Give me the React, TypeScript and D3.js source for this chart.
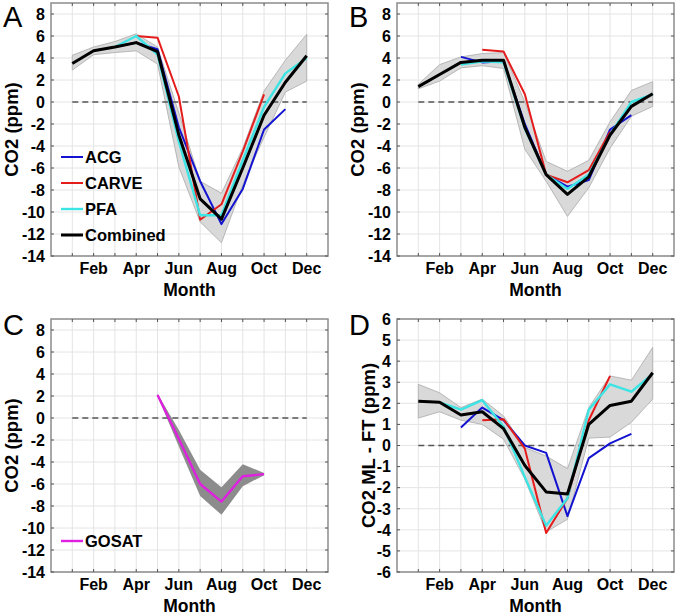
import React, { useEffect, useRef } from 'react';
import * as d3 from 'd3';

// months along the x axis
const months = [1, 2, 3, 4, 5, 6, 7, 8, 9, 10, 11, 12];
const monthTicks = [2, 4, 6, 8, 10, 12];
const monthLabels = ['Feb', 'Apr', 'Jun', 'Aug', 'Oct', 'Dec'];

const co2Ticks = [-14, -12, -10, -8, -6, -4, -2, 0, 2, 4, 6, 8];
const diffTicks = [-6, -5, -4, -3, -2, -1, 0, 1, 2, 3, 4, 5, 6];

const seriesNames = ['ACG', 'CARVE', 'PFA', 'Combined'];
const seriesColors = ['#1212d0', '#e41c1c', '#3ce4e4', '#000000'];

// Panel A
const aACG = [null, null, 5.0, 5.4, 4.8, -2.3, -7.2, -11.1, -7.9, -2.5, -0.65, null];
const aCARVE = [null, null, null, 6.0, 5.85, 0.5, -10.7, -9.3, -4.5, 0.7, null, null];
const aPFA = [null, null, 5.0, 6.0, 4.3, -3.6, -10.3, -10.3, -5.3, -0.45, 2.6, 4.0];
const aCombined = [3.5, 4.66, 5.0, 5.4, 4.57, -3.0, -8.8, -10.65, -6.0, -1.2, 1.8, 4.2];
const aUpper = [4.25, 5.0, 5.5, 6.2, 5.0, -1.0, -7.2, -8.3, -4.2, 1.0, 3.8, 6.15];
const aLower = [2.9, 4.3, 4.5, 4.65, 3.45, -5.9, -10.9, -12.8, -7.5, -3.2, 0.9, 1.9];

// Panel B
const bACG = [null, null, 4.1, 3.6, 3.7, -2.0, -6.6, -7.7, -7.1, -2.5, -1.2, null];
const bCARVE = [null, null, null, 4.75, 4.6, 0.7, -6.6, -7.3, -6.2, -2.7, null, null];
const bPFA = [null, null, 3.4, 3.7, 3.6, -2.4, -6.6, -7.9, -6.6, -3.0, 0.0, 0.7];
const bCombined = [1.4, 2.5, 3.6, 3.8, 3.8, -2.3, -6.6, -8.4, -6.8, -3.0, -0.4, 0.75];
const bUpper = [1.6, 3.4, 4.1, 4.4, 4.5, 0.0, -5.4, -6.3, -5.3, -1.8, 1.05, 1.85];
const bLower = [1.2, 1.9, 3.1, 3.3, 3.05, -4.3, -7.2, -10.4, -7.8, -4.2, -1.3, -0.4];

// Panel C
const cGOSAT = [null, null, null, null, 2.1, -1.9, -6.0, -7.6, -5.3, -5.1, null, null];
const cUpper = [null, null, null, null, 2.2, -1.1, -4.7, -6.3, -4.2, -5.0, null, null];
const cLower = [null, null, null, null, 2.0, -2.6, -7.1, -8.8, -6.2, -5.2, null, null];

// Panel D
const dACG = [null, null, 0.85, 1.8, 1.2, 0.0, -0.35, -3.35, -0.6, 0.1, 0.55, null];
const dCARVE = [null, null, null, 1.2, 1.25, -0.15, -4.15, -2.5, 1.2, 3.3, null, null];
const dPFA = [null, 2.05, 1.7, 2.15, 0.9, -1.5, -3.8, -2.5, 1.7, 2.9, 2.55, 3.4];
const dCombined = [2.1, 2.05, 1.45, 1.6, 0.8, -0.95, -2.2, -2.3, 1.0, 1.9, 2.1, 3.45];
const dUpper = [2.9, 2.5, 1.8, 2.2, 1.4, -0.1, -0.5, -1.1, 1.8, 3.3, 3.1, 4.65];
const dLower = [1.3, 1.6, 1.2, 1.0, 0.3, -1.6, -4.1, -3.5, 0.35, 0.4, 1.1, 2.2];

const FONT = '"Liberation Sans", Arial, Helvetica, sans-serif';

const App = () => {
  const svgRef = useRef(null);

  useEffect(() => {
    document.body.style.margin = '0';
    const svg = d3.select(svgRef.current);
    svg.selectAll('*').remove();

    const four = (a, b, c, d) => [a, b, c, d].map((values, i) => ({
      name: seriesNames[i], color: seriesColors[i], width: i === 3 ? 3 : (i === 2 ? 2.4 : 2), values
    }));

    const panels = [
      { letter: 'A', lx: 3, ly: 26.5, x0: 51, y0: 3, domain: [-14, 9], ticks: co2Ticks, ylabel: 'CO2 (ppm)', labOff: 39,
        series: four(aACG, aCARVE, aPFA, aCombined), upper: aUpper, lower: aLower, bandFill: '#d9d9d9', legend: true },
      { letter: 'B', lx: 349, ly: 26.5, x0: 397, y0: 3, domain: [-14, 9], ticks: co2Ticks, ylabel: 'CO2 (ppm)', labOff: 39,
        series: four(bACG, bCARVE, bPFA, bCombined), upper: bUpper, lower: bLower, bandFill: '#d9d9d9', legend: false },
      { letter: 'C', lx: 3, ly: 335, x0: 51, y0: 319, domain: [-14, 9], ticks: co2Ticks, ylabel: 'CO2 (ppm)', labOff: 39,
        series: [{ name: 'GOSAT', color: '#e020e0', width: 2.4, values: cGOSAT }], upper: cUpper, lower: cLower, bandFill: '#8c8c8c', legend: true },
      { letter: 'D', lx: 349, ly: 335, x0: 397, y0: 319, domain: [-6, 6], ticks: diffTicks, ylabel: 'CO2 ML - FT (ppm)', labOff: 28,
        series: four(dACG, dCARVE, dPFA, dCombined), upper: dUpper, lower: dLower, bandFill: '#d9d9d9', legend: false },
    ];

    const W = 277;
    const H = 253;

    panels.forEach(p => {
      const g = svg.append('g').attr('transform', `translate(${p.x0},${p.y0})`);
      const x = d3.scaleLinear().domain([0, 13]).range([0, W]);
      const y = d3.scaleLinear().domain(p.domain).range([H, 0]);

      // grid
      g.selectAll('.vgrid').data(months).enter().append('line')
        .attr('x1', d => x(d)).attr('x2', d => x(d)).attr('y1', 0).attr('y2', H)
        .attr('stroke', '#e4e4e4').attr('stroke-width', 1);
      g.selectAll('.hgrid').data(p.ticks).enter().append('line')
        .attr('x1', 0).attr('x2', W).attr('y1', d => y(d)).attr('y2', d => y(d))
        .attr('stroke', '#e4e4e4').attr('stroke-width', 1);

      // uncertainty band
      const band = months.map((m, i) => ({ m, lo: p.lower[i], hi: p.upper[i] }));
      const area = d3.area()
        .defined(d => d.lo != null && d.hi != null)
        .x(d => x(d.m)).y0(d => y(d.lo)).y1(d => y(d.hi));
      g.append('path').datum(band).attr('d', area)
        .attr('fill', p.bandFill).attr('stroke', p.bandFill === '#8c8c8c' ? 'none' : '#aaaaaa').attr('stroke-width', 0.8);

      // zero line
      g.append('line').attr('x1', x(1)).attr('x2', x(12)).attr('y1', y(0)).attr('y2', y(0))
        .attr('stroke', '#555').attr('stroke-width', 1.3).attr('stroke-dasharray', '6,4');

      // series
      const line = d3.line()
        .defined(d => d.v != null)
        .x(d => x(d.m)).y(d => y(d.v));
      p.series.forEach(s => {
        g.append('path').datum(months.map((m, i) => ({ m, v: s.values[i] })))
          .attr('d', line).attr('fill', 'none').attr('stroke', s.color)
          .attr('stroke-width', s.width).attr('stroke-linejoin', 'round');
      });

      // frame and ticks
      g.append('rect').attr('x', 0).attr('y', 0).attr('width', W).attr('height', H)
        .attr('fill', 'none').attr('stroke', '#8c8c8c').attr('stroke-width', 1.5);
      const tl = 3;
      months.forEach(m => {
        g.append('line').attr('x1', x(m)).attr('x2', x(m)).attr('y1', 0).attr('y2', tl).attr('stroke', '#555');
        g.append('line').attr('x1', x(m)).attr('x2', x(m)).attr('y1', H).attr('y2', H - tl).attr('stroke', '#555');
      });
      p.ticks.forEach(t => {
        g.append('line').attr('x1', 0).attr('x2', tl).attr('y1', y(t)).attr('y2', y(t)).attr('stroke', '#555');
        g.append('line').attr('x1', W).attr('x2', W - tl).attr('y1', y(t)).attr('y2', y(t)).attr('stroke', '#555');
      });

      // tick labels
      g.selectAll('.ytl').data(p.ticks).enter().append('text')
        .attr('x', -6).attr('y', d => y(d)).attr('dy', '0.36em')
        .attr('text-anchor', 'end').attr('font-family', FONT).attr('font-weight', 'bold').attr('font-size', 16)
        .text(d => d);
      g.selectAll('.xtl').data(monthTicks).enter().append('text')
        .attr('x', d => x(d)).attr('y', H + 18)
        .attr('text-anchor', 'middle').attr('font-family', FONT).attr('font-weight', 'bold').attr('font-size', 16)
        .text((d, i) => monthLabels[i]);

      // axis labels
      g.append('text').attr('x', W / 2).attr('y', H + 40).attr('text-anchor', 'middle')
        .attr('font-family', FONT).attr('font-weight', 'bold').attr('font-size', 17.5).text('Month');
      g.append('text').attr('transform', `translate(${-p.labOff},${H / 2}) rotate(-90)`)
        .attr('text-anchor', 'middle').attr('dy', '0.35em')
        .attr('font-family', FONT).attr('font-weight', 'bold').attr('font-size', 18.5).text(p.ylabel);

      // legend
      if (p.legend) {
        const ly0 = p.letter === 'A' ? 154 : 222;
        p.series.forEach((s, i) => {
          const yy = ly0 + i * 26;
          g.append('line').attr('x1', 10).attr('x2', 32).attr('y1', yy).attr('y2', yy)
            .attr('stroke', s.color).attr('stroke-width', s.width);
          g.append('text').attr('x', 34).attr('y', yy).attr('dy', '0.36em')
            .attr('font-family', FONT).attr('font-weight', 'bold').attr('font-size', 16.5).text(s.name);
        });
      }

      // panel letter
      svg.append('text').attr('x', p.lx).attr('y', p.ly)
        .attr('font-family', FONT).attr('font-size', 29).text(p.letter);
    });
  }, []);

  return <svg ref={svgRef} width={677} height={615} style={{ display: 'block', background: '#fff' }} />;
};

export default App;
